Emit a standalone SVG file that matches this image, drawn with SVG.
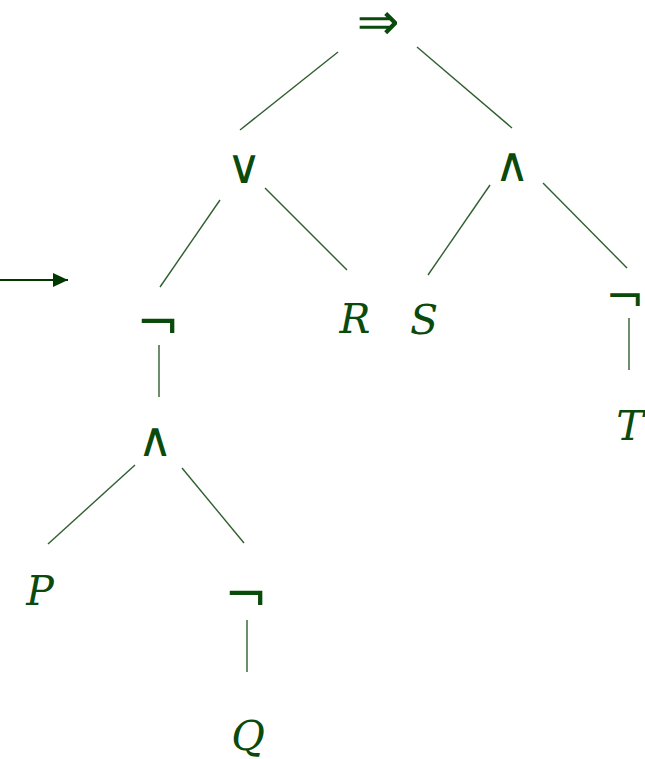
<svg xmlns="http://www.w3.org/2000/svg" width="645" height="759" viewBox="0 0 645 759">
<defs>
<style>
.sym{font-family:"DejaVu Sans",sans-serif;font-size:48px;fill:#0a4a0a;text-anchor:middle}
.neg{font-family:"DejaVu Sans",sans-serif;font-size:52px;fill:#0a4a0a;text-anchor:middle}
.var{font-family:"DejaVu Serif",serif;font-style:italic;font-size:41px;fill:#0a4a0a;text-anchor:middle}
.edge{stroke:#2f5f2f;stroke-width:1.4;fill:none}
</style>
<marker id="ah" markerWidth="16" markerHeight="14" refX="15" refY="7" orient="auto" markerUnits="userSpaceOnUse"><path d="M0,0 L15,7 L0,14 Z" fill="#003800"/></marker>
</defs>
<rect width="645" height="759" fill="#fff"/>
<g id="connectors">
<line class="edge" x1="338" y1="52" x2="240" y2="130"/>
<line class="edge" x1="417" y1="47" x2="512" y2="128"/>
<line class="edge" x1="220" y1="200" x2="160" y2="287"/>
<line class="edge" x1="265" y1="188" x2="347" y2="270"/>
<line class="edge" x1="490" y1="185" x2="428" y2="275"/>
<line class="edge" x1="543" y1="183" x2="627" y2="268"/>
<line class="edge" x1="159" y1="345" x2="159" y2="397"/>
<line class="edge" x1="135" y1="465" x2="48" y2="544"/>
<line class="edge" x1="182" y1="468" x2="244" y2="543"/>
<line class="edge" x1="247" y1="620" x2="247" y2="672"/>
<line class="edge" x1="629" y1="318" x2="629" y2="370"/>
<line x1="0" y1="280" x2="68" y2="280" stroke="#003800" stroke-width="2" marker-end="url(#ah)"/>
</g>
<g id="n_impl"><text class="sym" x="378" y="39" style="font-size:51px">⇒</text></g>
<g id="n_or"><text class="sym" x="244" y="183">∨</text></g>
<g id="n_and1"><text class="sym" x="512" y="181">∧</text></g>
<g id="n_not1"><text class="neg" x="158" y="341">¬</text></g>
<g id="n_R"><text class="var" x="355" y="333">R</text></g>
<g id="n_S"><text class="var" x="424" y="334">S</text></g>
<g id="n_not2"><text class="neg" x="625" y="313" style="font-size:47px">¬</text></g>
<g id="n_T"><text class="var" x="630" y="440">T</text></g>
<g id="n_and2"><text class="sym" x="155" y="456">∧</text></g>
<g id="n_P"><text class="var" x="40" y="605">P</text></g>
<g id="n_not3"><text class="neg" x="246" y="613">¬</text></g>
<g id="n_Q"><text class="var" x="248" y="750">Q</text></g>
</svg>
